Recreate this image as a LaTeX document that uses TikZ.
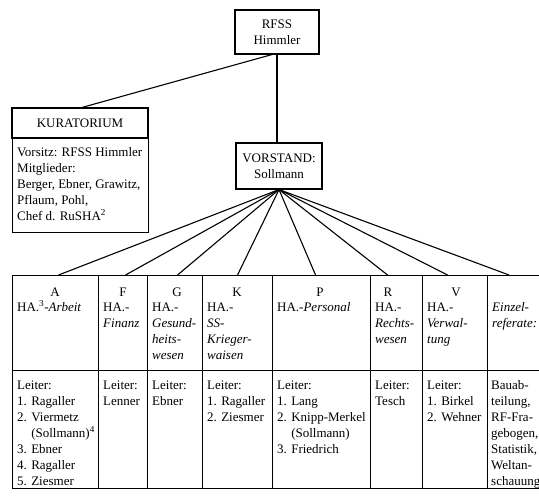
\documentclass[tikz,border=0pt]{standalone}
\usepackage{fontspec}
\setmainfont{Liberation Serif}
\usetikzlibrary{calc}
\begin{document}
\begin{tikzpicture}[x=1pt,y=-1pt,
  box/.style={draw, line width=1.1pt, inner sep=0pt, anchor=north west},
  cbox/.style={draw, line width=1.1pt, inner sep=0pt, align=center, font=\fontsize{13}{16}\selectfont},
  txt/.style={inner sep=0pt, anchor=north west, align=left, font=\fontsize{13}{16}\selectfont},
  ctr/.style={inner sep=0pt, align=center, font=\fontsize{13}{16}\selectfont},
  conn/.style={line width=1.1pt}]
\useasboundingbox (0,0) rectangle (539,499);
\fill[white] (0,0) rectangle (539,499);
% top boxes
\node[cbox, minimum width=84pt, minimum height=44pt] (rfss) at (277,32) {RFSS\\Himmler};
\node[cbox, minimum width=86pt, minimum height=46pt] (vor) at (279,166) {VORSTAND:\\Sollmann};
\node[cbox, minimum width=136pt, minimum height=30pt] (kurhead) at (80,123) {KURATORIUM};
\node[box, minimum width=136pt, minimum height=94pt] (kurbody) at (12,138) {};
\node[txt] (kurtext) at (17,145) {\rule{0pt}{11pt}Vorsitz: RFSS Himmler\\Mitglieder:\\Berger, Ebner, Grawitz,\\Pflaum, Pohl,\\Chef d. RuSHA\textsuperscript{2}};
% table cells
\foreach \n/\x/\w in {A/12/86, F/98/49, G/147/55, K/202/70, P/272/98, R/370/52, V/422/65, E/487/53} {
  \node[box, minimum width=\w pt, minimum height=95pt] (h\n) at (\x,275) {};
  \node[box, minimum width=\w pt, minimum height=118pt] (b\n) at (\x,370) {};
}
% letters
\node[ctr] (lA) at (55,292) {A};
\node[ctr] (lF) at (123,292) {F};
\node[ctr] (lG) at (177,292) {G};
\node[ctr] (lK) at (237,292) {K};
\node[ctr] (lP) at (320,292) {P};
\node[ctr] (lR) at (388,292) {R};
\node[ctr] (lV) at (456,292) {V};
% header texts
\node[txt] (tA) at (17,300) {\rule{0pt}{11pt}HA.\textsuperscript{3}-\textit{Arbeit}};
\node[txt] (tF) at (103,300) {\rule{0pt}{11pt}HA.-\\\textit{Finanz}};
\node[txt] (tG) at (152,300) {\rule{0pt}{11pt}HA.-\\\textit{Gesund-}\\\textit{heits-}\\\textit{wesen}};
\node[txt] (tK) at (207,300) {\rule{0pt}{11pt}HA.-\\\textit{SS-}\\\textit{Krieger-}\\\textit{waisen}};
\node[txt] (tP) at (277,300) {\rule{0pt}{11pt}HA.-\textit{Personal}};
\node[txt] (tR) at (375,300) {\rule{0pt}{11pt}HA.-\\\textit{Rechts-}\\\textit{wesen}};
\node[txt] (tV) at (427,300) {\rule{0pt}{11pt}HA.-\\\textit{Verwal-}\\\textit{tung}};
\node[txt] (tE) at (492,300) {\rule{0pt}{11pt}\textit{Einzel-}\\\textit{referate:}};
% body texts
\node[txt] (sA) at (17,378) {\rule{0pt}{11pt}Leiter:\\1. Ragaller\\2. Viermetz\\\phantom{2. }(Sollmann)\textsuperscript{4}\\3. Ebner\\4. Ragaller\\5. Ziesmer};
\node[txt] (sF) at (103,378) {\rule{0pt}{11pt}Leiter:\\Lenner};
\node[txt] (sG) at (152,378) {\rule{0pt}{11pt}Leiter:\\Ebner};
\node[txt] (sK) at (207,378) {\rule{0pt}{11pt}Leiter:\\1. Ragaller\\2. Ziesmer};
\node[txt] (sP) at (277,378) {\rule{0pt}{11pt}Leiter:\\1. Lang\\2. Knipp-Merkel\\\phantom{2. }(Sollmann)\\3. Friedrich};
\node[txt] (sR) at (375,378) {\rule{0pt}{11pt}Leiter:\\Tesch};
\node[txt] (sV) at (427,378) {\rule{0pt}{11pt}Leiter:\\1. Birkel\\2. Wehner};
\node[txt] (sE) at (491,378) {\rule{0pt}{11pt}Bauab-\\teilung,\\RF-Fra-\\gebogen,\\Statistik,\\Weltan-\\schauung};
% connectors
\draw[conn] (rfss.south) -- (rfss.south |- vor.north);
\draw[conn] ([xshift=-5pt]rfss.south) -- ([xshift=2pt]kurhead.north);
\foreach \n/\dx in {A/3, F/2.5, G/2.5, K/0, P/-6, R/-9, V/-7.5, E/-5} {
  \draw[conn] (vor.south) -- ([xshift=\dx pt]h\n.north);
}
\end{tikzpicture}
\end{document}
